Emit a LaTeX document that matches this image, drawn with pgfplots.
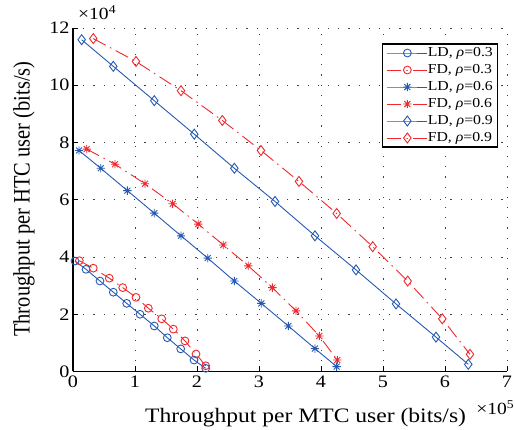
\documentclass[border=0pt]{standalone}
\usepackage{fontspec}
\setmainfont{Liberation Serif}
\usepackage{graphicx}
\usepackage{pgfplots}
\pgfplotsset{compat=1.18}

\definecolor{ldblue}{RGB}{38,89,178}
\definecolor{fdred}{RGB}{237,41,45}
% the reference is stretched horizontally
\newcommand\hs[1]{\scalebox{1.15}[1]{#1}}

% matlab style '*' marker (plus and cross)
\pgfdeclareplotmark{mstar}{%
  \pgfpathmoveto{\pgfqpoint{-\pgfplotmarksize}{0pt}}%
  \pgfpathlineto{\pgfqpoint{\pgfplotmarksize}{0pt}}%
  \pgfpathmoveto{\pgfqpoint{0pt}{-\pgfplotmarksize}}%
  \pgfpathlineto{\pgfqpoint{0pt}{\pgfplotmarksize}}%
  \pgfpathmoveto{\pgfqpoint{-.707\pgfplotmarksize}{-.707\pgfplotmarksize}}%
  \pgfpathlineto{\pgfqpoint{.707\pgfplotmarksize}{.707\pgfplotmarksize}}%
  \pgfpathmoveto{\pgfqpoint{-.707\pgfplotmarksize}{.707\pgfplotmarksize}}%
  \pgfpathlineto{\pgfqpoint{.707\pgfplotmarksize}{-.707\pgfplotmarksize}}%
  \pgfusepathqstroke}

\pgfplotstableread{
x y
0.032 3.86
0.210 3.57
0.435 3.16
0.650 2.77
0.866 2.38
1.081 2.00
1.311 1.59
1.521 1.18
1.737 0.79
1.952 0.40
2.140 0.11
}\ldA
\pgfplotstableread{
x y
0.102 3.87
0.327 3.61
0.585 3.26
0.802 2.93
1.016 2.59
1.215 2.21
1.431 1.84
1.618 1.48
1.806 1.07
1.984 0.61
2.140 0.20
}\fdA
\pgfplotstableread{
x y
0.097 7.72
0.447 7.10
0.876 6.32
1.311 5.53
1.742 4.74
2.173 3.96
2.602 3.16
3.037 2.38
3.473 1.59
3.903 0.80
4.253 0.17
}\ldB
\pgfplotstableread{
x y
0.221 7.77
0.677 7.24
1.161 6.56
1.608 5.86
2.021 5.15
2.424 4.42
2.827 3.69
3.215 2.93
3.597 2.12
3.973 1.24
4.263 0.40
}\fdB
\pgfplotstableread{
x y
0.140 11.59
0.650 10.66
1.311 9.46
1.956 8.29
2.602 7.10
3.258 5.94
3.903 4.74
4.565 3.55
5.210 2.36
5.855 1.20
6.376 0.25
}\ldC
\pgfplotstableread{
x y
0.327 11.63
1.016 10.83
1.742 9.81
2.408 8.77
3.032 7.72
3.645 6.64
4.253 5.52
4.834 4.36
5.398 3.16
5.956 1.84
6.403 0.60
}\fdC

\begin{document}
\begin{tikzpicture}
\useasboundingbox (-73pt,-58.5pt) rectangle (442pt,371.5pt);
\begin{axis}[
  scale only axis,
  width=434pt, height=343.5pt,
  xmin=0, xmax=7, ymin=0, ymax=12,
  xtick={0,1,...,7}, ytick={0,2,...,12},
  axis lines=left,
  axis line style={-, line width=1.1pt},
  tick style={line width=0.8pt, black},
  major tick length=5pt,
  tick align=inside,
  grid=major,
  major grid style={black!75, line width=0.9pt, dash pattern=on 1.2pt off 9pt},
  /pgf/number format/assume math mode=true,
  xticklabel={\hs{\pgfmathprintnumber{\tick}}},
  yticklabel={\hs{\pgfmathprintnumber{\tick}}},
  tick label style={font=\fontsize{17.5}{20}\selectfont},
  xticklabel style={yshift=-1pt},
  xlabel={\hs{Throughput per MTC user (bits/s)}},
  xlabel style={at={(axis description cs:0.536,0)}, anchor=base, yshift=-51.5pt,
    font=\fontsize{20.5}{24}\selectfont},
  ylabel={\scalebox{1}[1.15]{\fontsize{20.5}{24}\selectfont Throughput per HTC user (bits/s)}},
  ylabel style={at={(axis description cs:0,0.502)}, anchor=center, yshift=49pt},
  clip=false,
  legend cell align=left,
  legend style={at={(0.979,0.955)}, anchor=north east,
    draw=black, line width=1.1pt, fill=white,
    font=\fontsize{13.7}{15}\selectfont,
    inner xsep=4.5pt, inner ysep=2pt, row sep=3pt,
    nodes={inner sep=0pt, text height=10.5pt, text depth=3.5pt}},
  legend image code/.code={%
    \draw[mark repeat=2, mark phase=2] plot coordinates {(0pt,0pt) (20pt,0pt) (40pt,0pt)};},
  every axis plot/.append style={line width=0.9pt},
]
\addplot[ldblue, mark=o, mark size=3.9pt] table {\ldA};
\addlegendentry{\hs{LD, \textit{ρ}=0.3}}
\addplot[fdred, dash pattern=on 14pt off 5pt on 1.5pt off 5pt, mark=o, mark size=3.9pt, mark options={solid}] table {\fdA};
\addlegendentry{\hs{FD, \textit{ρ}=0.3}}
\addplot[ldblue, mark=mstar, mark size=4.2pt] table {\ldB};
\addlegendentry{\hs{LD, \textit{ρ}=0.6}}
\addplot[fdred, dash pattern=on 14pt off 5pt on 1.5pt off 5pt, mark=mstar, mark size=4.2pt, mark options={solid}] table {\fdB};
\addlegendentry{\hs{FD, \textit{ρ}=0.6}}
\addplot[ldblue, mark=diamond, mark size=5pt] table {\ldC};
\addlegendentry{\hs{LD, \textit{ρ}=0.9}}
\addplot[fdred, dash pattern=on 14pt off 5pt on 1.5pt off 5pt, mark=diamond, mark size=5pt, mark options={solid}] table {\fdC};
\addlegendentry{\hs{FD, \textit{ρ}=0.9}}
\node[anchor=base west, font=\fontsize{17}{20}\selectfont, inner sep=0pt]
  at (rel axis cs:0,1) [xshift=5pt, yshift=8.7pt] {\hs{×10\textsuperscript{4}}};
\node[anchor=base east, font=\fontsize{17}{20}\selectfont, inner sep=0pt]
  at (rel axis cs:1,0) [xshift=7.5pt, yshift=-43.5pt] {\hs{×10\textsuperscript{5}}};
\end{axis}
\end{tikzpicture}
\end{document}
